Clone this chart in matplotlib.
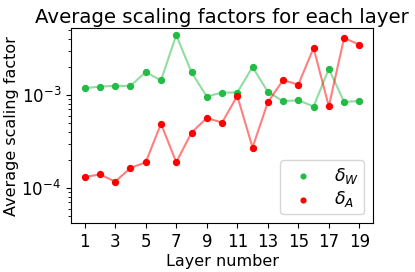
import matplotlib
matplotlib.use("Agg")
import matplotlib.pyplot as plt
import numpy as np

layers = np.arange(1, 20)
delta_w = [1.18e-3, 1.23e-3, 1.25e-3, 1.25e-3, 1.76e-3, 1.43e-3, 4.4e-3, 1.75e-3, 9.6e-4, 1.06e-3,
           1.06e-3, 2.0e-3, 1.08e-3, 8.55e-4, 8.77e-4, 7.5e-4, 1.91e-3, 8.4e-4, 8.6e-4]
delta_a = [1.31e-4, 1.40e-4, 1.17e-4, 1.64e-4, 1.89e-4, 4.9e-4, 1.89e-4, 3.93e-4, 5.65e-4, 5.04e-4,
           9.75e-4, 2.72e-4, 8.34e-4, 1.44e-3, 1.29e-3, 3.19e-3, 7.53e-4, 4.09e-3, 3.47e-3]

green = '#22bb44'
red = '#ff0000'

fig = plt.figure(figsize=(4.15, 2.72), dpi=100)
ax = fig.add_axes([0.171, 0.18, 0.728, 0.716])

ax.plot(layers, delta_w, color=green, alpha=0.5)
ax.plot(layers, delta_a, color=red, alpha=0.5)
ax.scatter(layers, delta_w, color=green, s=18, label=r'$\delta_W$', zorder=3)
ax.scatter(layers, delta_a, color=red, s=18, label=r'$\delta_A$', zorder=3)

ax.set_yscale('log')
ax.set_ylim(4.2e-5, 5.2e-3)
ax.set_xticks(np.arange(1, 20, 2))
ax.tick_params(labelsize=12)
ax.set_xlabel('Layer number', fontsize=11.5, labelpad=2)
ax.set_ylabel('Average scaling factor', fontsize=11.5, labelpad=2)
ax.set_title('Average scaling factors for each layer', fontsize=14.2, pad=4)
ax.legend(loc='lower right', fontsize=12.5, markerscale=0.8, handletextpad=0.8,
          borderpad=0.3, labelspacing=0.2)

fig.savefig('out.png', dpi=100)
